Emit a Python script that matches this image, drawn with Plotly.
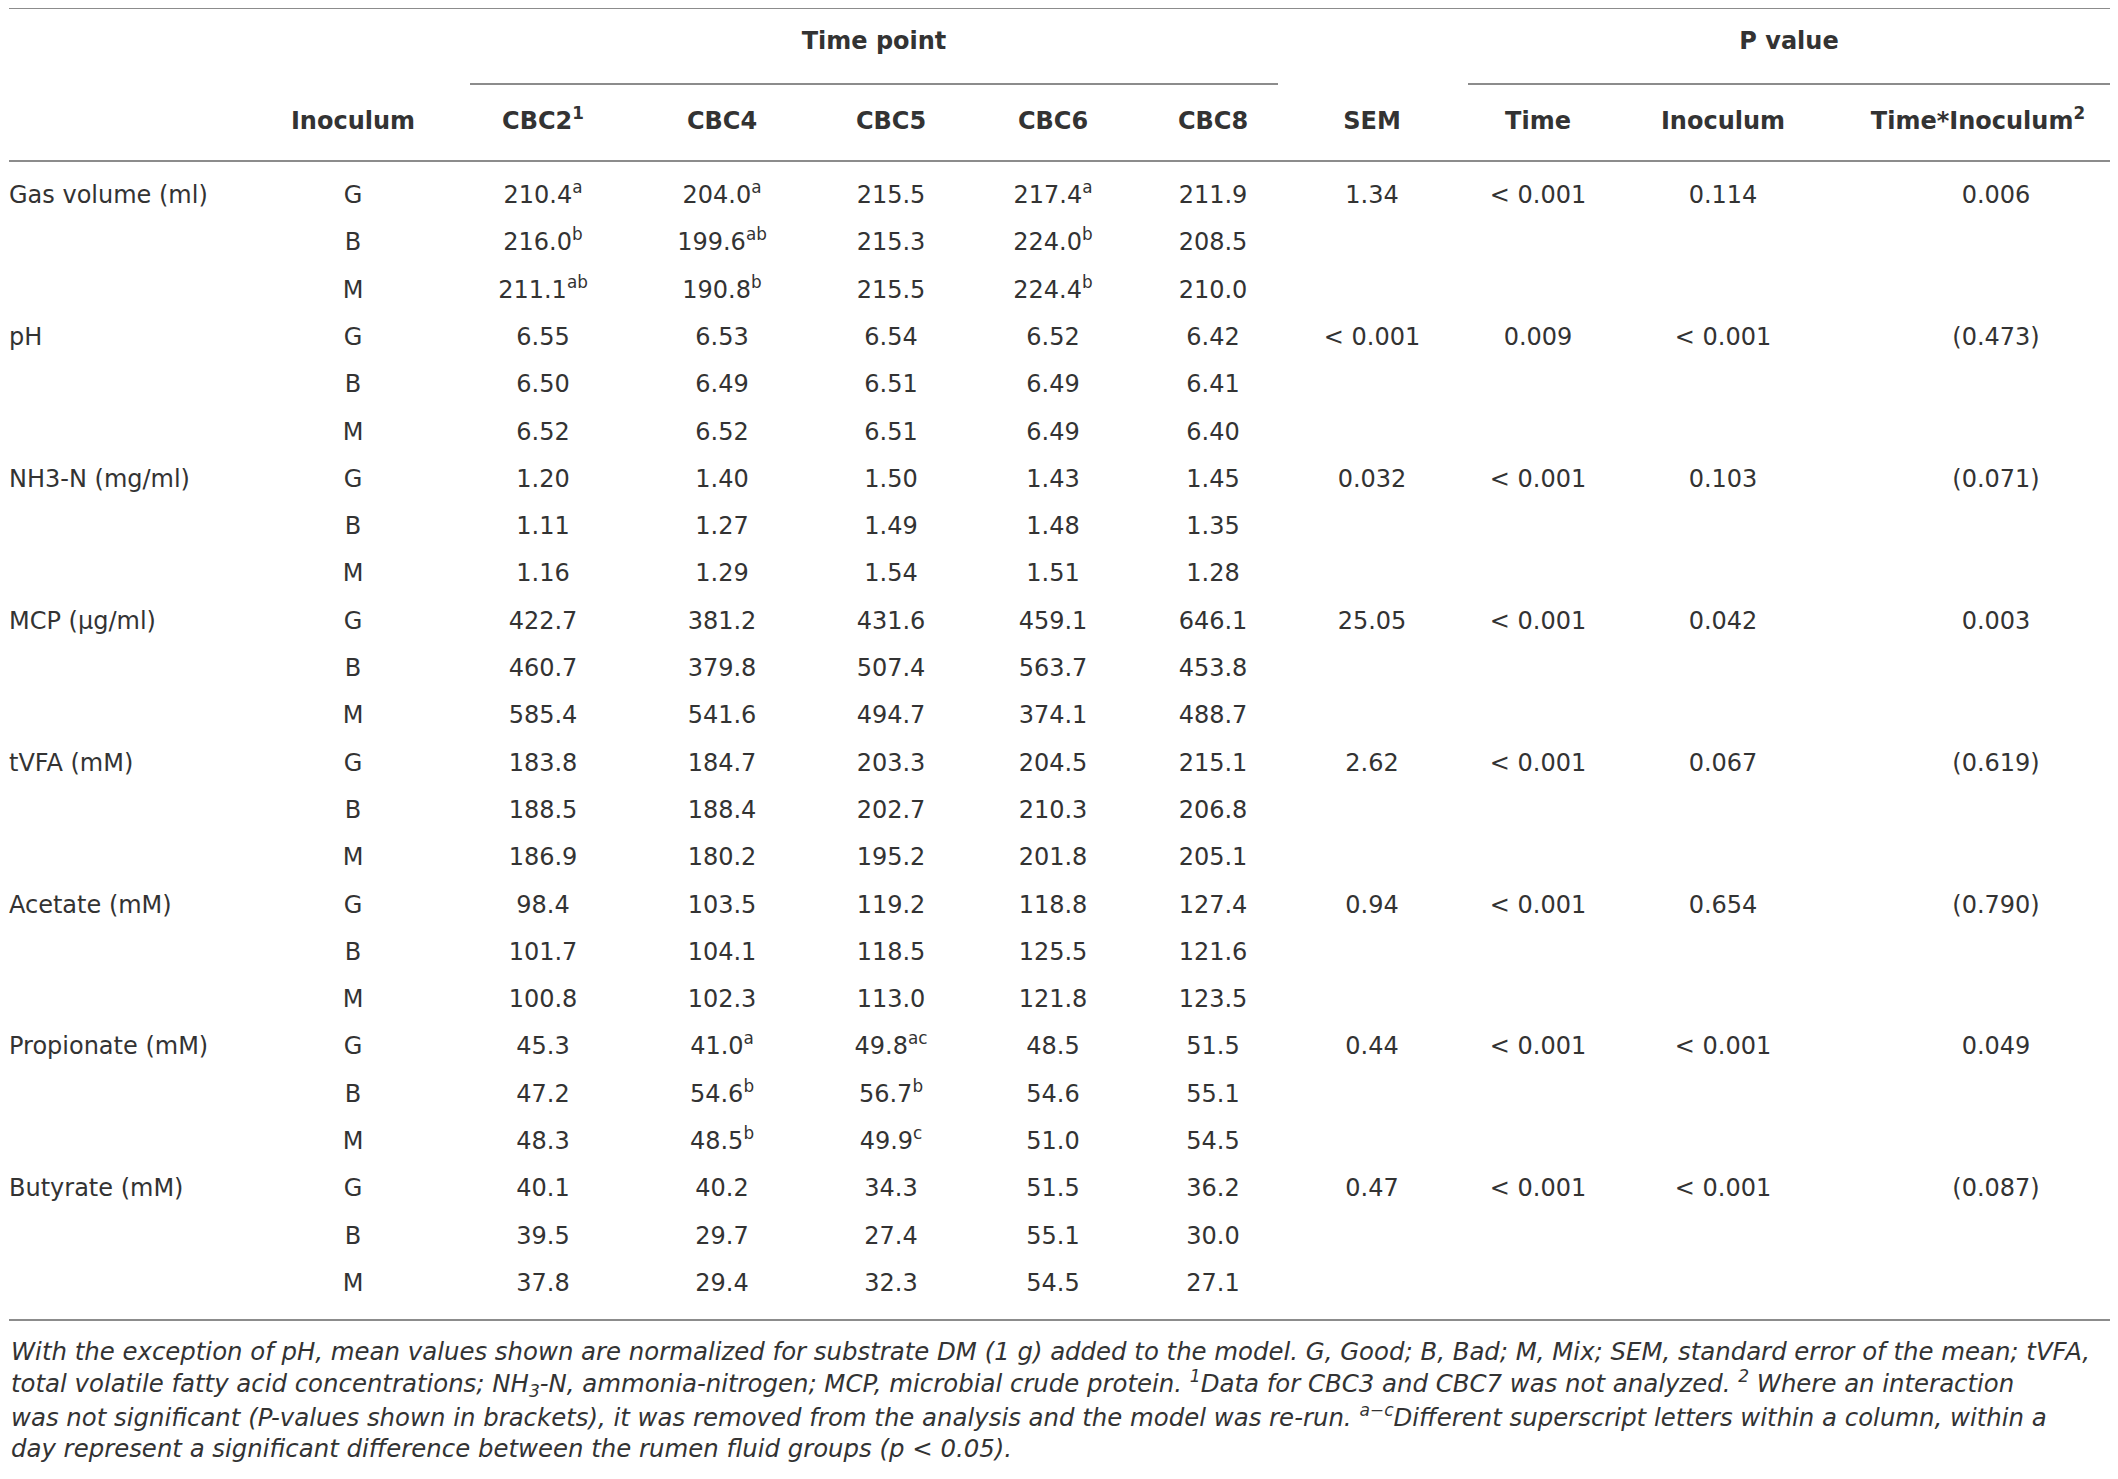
import plotly.graph_objects as go

# Table data
variables = ["Gas volume (ml)", "pH", "NH3-N (mg/ml)", "MCP (µg/ml)",
             "tVFA (mM)", "Acetate (mM)", "Propionate (mM)", "Butyrate (mM)"]
inocula = ["G", "B", "M"]

cbc2 = ["210.4", "216.0", "211.1", "6.55", "6.50", "6.52", "1.20", "1.11", "1.16",
        "422.7", "460.7", "585.4", "183.8", "188.5", "186.9", "98.4", "101.7", "100.8",
        "45.3", "47.2", "48.3", "40.1", "39.5", "37.8"]
cbc4 = ["204.0", "199.6", "190.8", "6.53", "6.49", "6.52", "1.40", "1.27", "1.29",
        "381.2", "379.8", "541.6", "184.7", "188.4", "180.2", "103.5", "104.1", "102.3",
        "41.0", "54.6", "48.5", "40.2", "29.7", "29.4"]
cbc5 = ["215.5", "215.3", "215.5", "6.54", "6.51", "6.51", "1.50", "1.49", "1.54",
        "431.6", "507.4", "494.7", "203.3", "202.7", "195.2", "119.2", "118.5", "113.0",
        "49.8", "56.7", "49.9", "34.3", "27.4", "32.3"]
cbc6 = ["217.4", "224.0", "224.4", "6.52", "6.49", "6.49", "1.43", "1.48", "1.51",
        "459.1", "563.7", "374.1", "204.5", "210.3", "201.8", "118.8", "125.5", "121.8",
        "48.5", "54.6", "51.0", "51.5", "55.1", "54.5"]
cbc8 = ["211.9", "208.5", "210.0", "6.42", "6.41", "6.40", "1.45", "1.35", "1.28",
        "646.1", "453.8", "488.7", "215.1", "206.8", "205.1", "127.4", "121.6", "123.5",
        "51.5", "55.1", "54.5", "36.2", "30.0", "27.1"]

# superscript letters, keyed by row index
sup_cbc2 = {0: "a", 1: "b", 2: "ab"}
sup_cbc4 = {0: "a", 1: "ab", 2: "b", 18: "a", 19: "b", 20: "b"}
sup_cbc5 = {18: "ac", 19: "b", 20: "c"}
sup_cbc6 = {0: "a", 1: "b", 2: "b"}
sup_cbc8 = {}

sem = ["1.34", "< 0.001", "0.032", "25.05", "2.62", "0.94", "0.44", "0.47"]
p_time = ["< 0.001", "0.009", "< 0.001", "< 0.001", "< 0.001", "< 0.001", "< 0.001", "< 0.001"]
p_inoc = ["0.114", "< 0.001", "0.103", "0.042", "0.067", "0.654", "< 0.001", "< 0.001"]
p_inter = ["0.006", "(0.473)", "(0.071)", "0.003", "(0.619)", "(0.790)", "0.049", "(0.087)"]

headers = ["Inoculum", "CBC2<sup>1</sup>", "CBC4", "CBC5", "CBC6", "CBC8",
           "SEM", "Time", "Inoculum", "Time*Inoculum<sup>2</sup>"]
groups = ["Time point", "P value"]

footnote = [
    "With the exception of pH, mean values shown are normalized for substrate DM (1 g) added to the model. "
    "G, Good; B, Bad; M, Mix; SEM, standard error of the mean; tVFA,",
    "total volatile fatty acid concentrations; NH<sub>3</sub>-N, ammonia-nitrogen; MCP, microbial crude protein. "
    "<sup>1</sup>Data for CBC3 and CBC7 was not analyzed. <sup>2</sup> Where an interaction",
    "was not significant (P-values shown in brackets), it was removed from the analysis and the model was re-run. "
    "<sup>a\u2212c</sup>Different superscript letters within a column, within a",
    "day represent a significant difference between the rumen fluid groups (p &lt; 0.05).",
]

# layout (screen pixel positions; page body has an 8px margin)
W, H = 2118, 1479
OFF = 8
ROW0, ROW_STEP = 197, 47.3
LABEL_X = 9
COL_X = [353, 543, 722, 891, 1053, 1213, 1372, 1538, 1723, 1996]
HEAD_X = [353, 543, 722, 891, 1053, 1213, 1372, 1538, 1723, 1978]
GROUP_X = [874, 1789]
HEAD_Y, GROUP_Y = 123, 43
TXT = "#333333"
RULE = "#8c8c8c"
FONT = "DejaVu Sans"
FS = 24

n_rows = len(variables) * len(inocula)
row_y = [ROW0 + i * ROW_STEP for i in range(n_rows)]
group_y = row_y[::len(inocula)]

fig = go.Figure()


def add_col(x, ys, texts, pos="middle center", weight=400):
    fig.add_trace(go.Scatter(
        x=[x] * len(ys) if not isinstance(x, list) else x, y=ys, text=texts,
        mode="text", textposition=pos, cliponaxis=False,
        textfont=dict(family=FONT, size=FS, color=TXT, weight=weight),
        hoverinfo="skip", showlegend=False))


# row labels and inoculum
add_col(LABEL_X, group_y, variables, pos="middle right")
add_col(COL_X[0], row_y, inocula * len(variables))

# time point columns
for k, (vals, sups) in enumerate([(cbc2, sup_cbc2), (cbc4, sup_cbc4), (cbc5, sup_cbc5),
                                   (cbc6, sup_cbc6), (cbc8, sup_cbc8)]):
    txt = [v + ("<sup>%s</sup>" % sups[i] if i in sups else "") for i, v in enumerate(vals)]
    add_col(COL_X[k + 1], row_y, txt)

# SEM and P values, one per variable
for k, vals in enumerate([sem, p_time, p_inoc, p_inter]):
    add_col(COL_X[k + 6], group_y, [v.replace("<", "&lt;") for v in vals])

# headers
add_col(HEAD_X, [HEAD_Y] * len(headers), headers, weight=700)
add_col(GROUP_X, [GROUP_Y] * len(groups), groups, weight=700)

# rules
rules = [(9, 2115, 8), (470, 1278, 84), (1468, 2114, 84), (9, 2115, 161), (9, 2115, 1320)]
for x0, x1, y in rules:
    fig.add_shape(type="line", x0=x0, x1=x1, y0=y, y1=y, xref="x", yref="y",
                  line=dict(color=RULE, width=2))

# footnote
for i, line in enumerate(footnote):
    fig.add_annotation(
        x=LABEL_X, y=1351 + i * 32.5, xref="x", yref="y", xanchor="left", yanchor="middle",
        text="<i>" + line + "</i>", showarrow=False,
        font=dict(family=FONT, size=24.4, color=TXT, weight=300), align="left")

fig.update_layout(
    width=W - OFF, height=H - OFF, margin=dict(l=0, r=0, t=0, b=0),
    paper_bgcolor="white", plot_bgcolor="white",
    xaxis=dict(range=[OFF, W], visible=False, fixedrange=True),
    yaxis=dict(range=[H, OFF], visible=False, fixedrange=True),
)

fig.write_html("out.html")
